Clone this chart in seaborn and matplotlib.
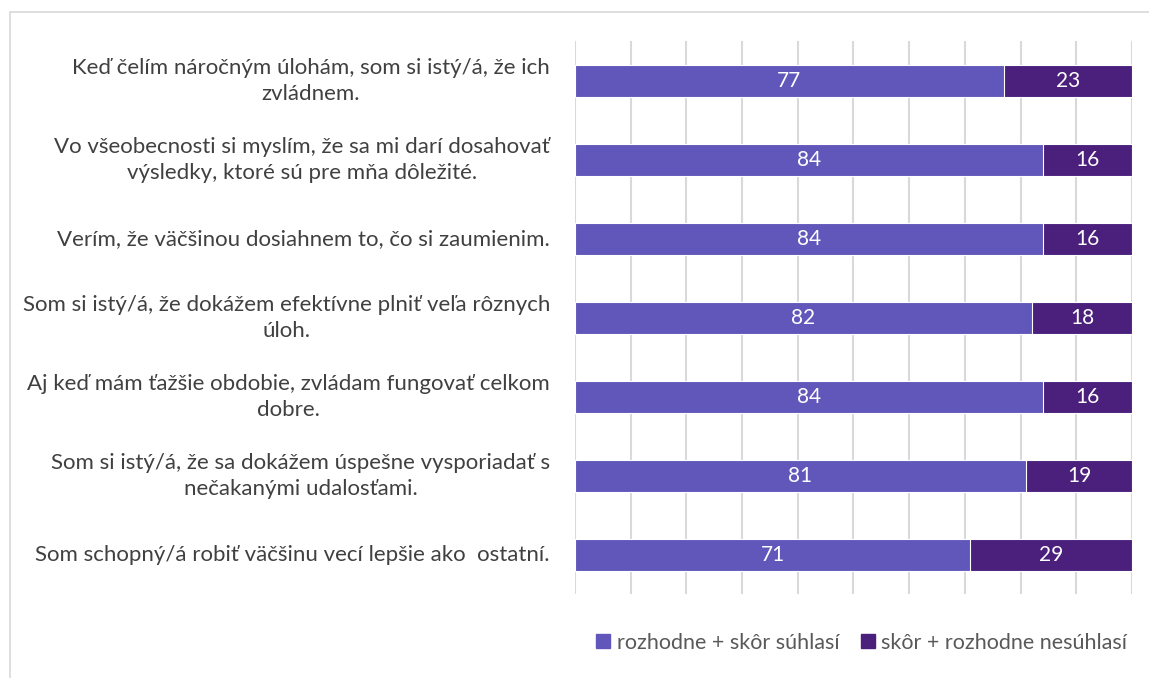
import pandas as pd
import matplotlib.pyplot as plt
import matplotlib.patches as mpatches
import seaborn as sns

# výroky a podiely (%)
vyroky = [
    'Keď čelím náročným úlohám, som si istý/á, že ich\nzvládnem.',
    'Vo všeobecnosti si myslím, že sa mi darí dosahovať\nvýsledky, ktoré sú pre mňa dôležité.',
    'Verím, že väčšinou dosiahnem to, čo si zaumienim.',
    'Som si istý/á, že dokážem efektívne plniť veľa rôznych\núloh.',
    'Aj keď mám ťažšie obdobie, zvládam fungovať celkom\ndobre.',
    'Som si istý/á, že sa dokážem úspešne vysporiadať s\nnečakanými udalosťami.',
    'Som schopný/á robiť väčšinu vecí lepšie ako  ostatní.',
]
suhlasi = [77, 84, 84, 82, 84, 81, 71]
nesuhlasi = [23, 16, 16, 18, 16, 19, 29]
legenda = ['rozhodne + skôr súhlasí', 'skôr + rozhodne nesúhlasí']

c_svetla = '#6157BA'
c_tmava = '#4B1F7C'

df = pd.DataFrame({'vyrok': vyroky, 'suhlasi': suhlasi, 'nesuhlasi': nesuhlasi})
df['spolu'] = df['suhlasi'] + df['nesuhlasi']

sns.set_style('white')
plt.rcParams['font.family'] = ['Lato', 'DejaVu Sans']

fig = plt.figure(figsize=(11.49, 6.78), dpi=100)
ax = fig.add_axes([0.5004, 0.1232, 0.4848, 0.8156])

# celkom (tmavá) a pod ňou súhlas (svetlá)
sns.barplot(data=df, y='vyrok', x='spolu', color=c_tmava, orient='h', width=0.4,
            saturation=1, edgecolor='white', linewidth=0.8, ax=ax)
sns.barplot(data=df, y='vyrok', x='suhlasi', color=c_svetla, orient='h', width=0.4,
            saturation=1, edgecolor='white', linewidth=0.8, ax=ax)

for i, row in df.iterrows():
    ax.text(row['suhlasi'] / 2, i, str(row['suhlasi']), color='white',
            ha='center', va='center', fontsize=15)
    ax.text(row['suhlasi'] + row['nesuhlasi'] / 2, i, str(row['nesuhlasi']),
            color='white', ha='center', va='center', fontsize=15)

ax.set_xlim(0, 100)
ax.set_ylim(6.5, -0.5)
ax.set_xticks(range(0, 101, 10))
ax.set_xticklabels([])
ax.xaxis.grid(True, color='#D9D9D9', linewidth=1.5)
ax.set_axisbelow(True)
ax.set_xlabel('')
ax.set_ylabel('')
sns.despine(ax=ax, left=True, bottom=True)
ax.tick_params(axis='y', length=0, pad=18, labelsize=16, labelcolor='#404040')
ax.tick_params(axis='x', length=0)
for lab in ax.get_yticklabels():
    lab.set_multialignment('center')
    lab.set_linespacing(1.4)
    lab.set_verticalalignment('center')

handles = [mpatches.Patch(color=c_svetla, label=legenda[0]),
           mpatches.Patch(color=c_tmava, label=legenda[1])]
fig.legend(handles=handles, loc='center', bbox_to_anchor=(0.75, 0.052), ncol=2,
           frameon=False, fontsize=15.5, labelcolor='#595959', handlelength=0.65,
           handleheight=0.65, handletextpad=0.3, columnspacing=1.0)

# rámček grafu
fig.patches.append(mpatches.Rectangle((0.0091, -0.1), 1.2, 0.9823 + 0.1,
                                      transform=fig.transFigure, fill=False,
                                      edgecolor='#D9D9D9', linewidth=1.2))

fig.savefig('out.png', dpi=100)
